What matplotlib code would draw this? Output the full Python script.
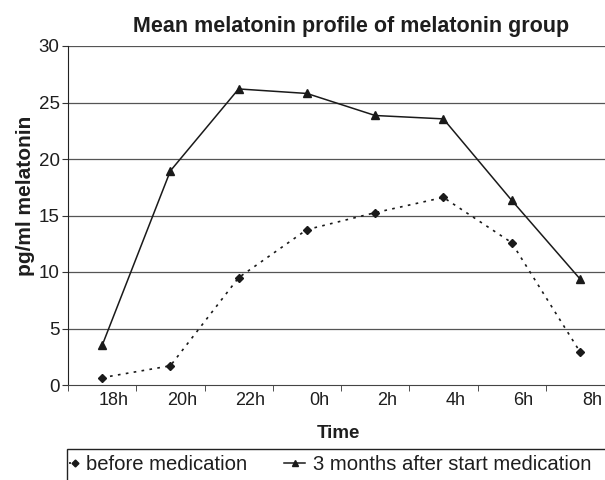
import numpy as np
import matplotlib
matplotlib.use("Agg")
import matplotlib.pyplot as plt
import matplotlib.transforms as mtransforms
from matplotlib.lines import Line2D
from matplotlib.patches import Rectangle

plt.rcParams['font.family'] = ['Liberation Sans', 'DejaVu Sans']

categories = ["18h", "20h", "22h", "0h", "2h", "4h", "6h", "8h"]
before = [0.65, 1.7, 9.5, 13.75, 15.25, 16.6, 12.6, 2.95]
after = [3.5, 18.95, 26.2, 25.8, 23.85, 23.55, 16.35, 9.4]
yticks = [0, 5, 10, 15, 20, 25, 30]
series_names = ["before medication", "3 months after start medication"]

W, H = 605, 480
fig = plt.figure(figsize=(W / 100, H / 100), dpi=100)
ax = fig.add_axes([68 / W, 95 / H, 546 / W, 339 / H])

x = np.arange(len(categories))
lc = '#1a1a1a'
tc = '#1e1e1e'

ax.plot(x, before, color=lc, linestyle=(0, (1.6, 3.2)), linewidth=1.2,
        marker='D', markersize=4, zorder=4)
ax.plot(x, after, color=lc, linewidth=1.1, marker='^', markersize=5.5, zorder=4)

ax.set_xlim(-0.5, len(categories) - 0.5)
ax.set_ylim(0, 30)
ax.set_yticks(yticks)
ax.set_yticklabels([str(v) for v in yticks], fontsize=13.5, color=tc)
ax.set_xticks(x)
ax.set_xticklabels(categories, fontsize=13, color=tc)
ax.set_xticks(np.arange(len(categories) + 1) - 0.5, minor=True)
ax.tick_params(axis='x', which='major', length=0, pad=5)
ax.tick_params(axis='x', which='minor', length=4, direction='out', color='#333333')
ax.tick_params(axis='y', length=4, direction='out', color='#333333', pad=2)

offset = mtransforms.ScaledTranslation(12 / 100, 0, fig.dpi_scale_trans)
for lab in ax.get_xticklabels():
    lab.set_transform(lab.get_transform() + offset)

for v in yticks[1:]:
    ax.axhline(v, color='#555555', linewidth=0.9, zorder=1)

for s in ['top', 'right']:
    ax.spines[s].set_visible(False)
ax.spines['left'].set_color('#222222')
ax.spines['bottom'].set_color('#444444')

fig.text(351 / W, 1 - 32 / H, "Mean melatonin profile of melatonin group",
         ha='center', va='baseline', fontsize=15.5, fontweight='bold', color=tc)
fig.text(26 / W, 1 - 196 / H, "pg/ml melatonin", rotation=90,
         ha='center', va='center', fontsize=15, fontweight='bold', color=tc)
fig.text(338 / W, 1 - 433 / H, "Time", ha='center', va='center',
         fontsize=13.5, fontweight='bold', color=tc)

# legend frame (extends past the right and bottom edges as in the reference)
fig.patches.append(Rectangle((67 / W, -0.05), 600 / W, (0.05 + 1 - 449 / H),
                             transform=fig.transFigure, fill=False,
                             edgecolor='#222222', linewidth=1.0))
h1 = Line2D([], [], color=lc, linestyle=(0, (1.2, 2.4)), linewidth=1.2, marker='D', markersize=3.5)
h2 = Line2D([], [], color=lc, linestyle='-', linewidth=1.1, marker='^', markersize=4.5)
leg1 = fig.legend([h1], [series_names[0]], loc='center left',
                  bbox_to_anchor=(67 / W, 1 - 465 / H), fontsize=14.6, frameon=False,
                  borderaxespad=0, handlelength=0.6, handletextpad=0.25, borderpad=0.1)
leg2 = fig.legend([h2], [series_names[1]], loc='center left',
                  bbox_to_anchor=(282 / W, 1 - 465 / H), fontsize=14.6, frameon=False,
                  borderaxespad=0, handlelength=1.05, handletextpad=0.4, borderpad=0.1)
for lg in (leg1, leg2):
    for t in lg.get_texts():
        t.set_color(tc)

fig.savefig("out.png", dpi=100)
